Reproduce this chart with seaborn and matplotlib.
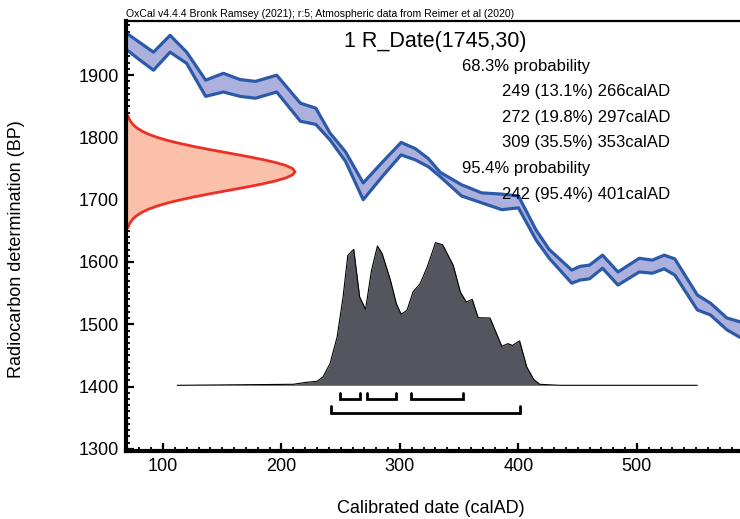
import numpy as np
import pandas as pd
import matplotlib
matplotlib.use("Agg")
import matplotlib.pyplot as plt
import seaborn as sns

# calibration curve band (upper / lower edge, BP)
cal_years = [68, 80, 92, 106, 120, 136, 151, 165, 178, 196, 216, 229, 241, 254, 269,
             285, 301, 313, 324, 334, 352, 369, 386, 400, 415, 426, 445, 452, 460, 471,
             484, 502, 513, 523, 532, 551, 562, 576, 587]
cal_upper = [1969, 1953, 1937, 1964, 1937, 1892, 1903, 1893, 1890, 1900, 1855, 1847, 1807,
             1777, 1727, 1760, 1792, 1782, 1766, 1744, 1724, 1711, 1709, 1706, 1651, 1620,
             1587, 1593, 1595, 1611, 1584, 1606, 1603, 1611, 1605, 1547, 1534, 1510, 1504]
cal_lower = [1943, 1925, 1908, 1937, 1919, 1866, 1873, 1866, 1863, 1873, 1826, 1821, 1796,
             1762, 1700, 1737, 1772, 1764, 1753, 1737, 1706, 1695, 1684, 1687, 1635, 1606,
             1566, 1571, 1573, 1590, 1563, 1584, 1582, 1589, 1579, 1523, 1515, 1491, 1479]

# radiocarbon date R_Date(1745,30): relative density along the BP axis
rdate_bp = list(range(1655, 1840, 5))
rdate_dens = [0.011, 0.018, 0.029, 0.044, 0.066, 0.096, 0.135, 0.186, 0.249, 0.325,
              0.411, 0.506, 0.607, 0.707, 0.801, 0.882, 0.946, 0.986, 1.0, 0.986,
              0.946, 0.882, 0.801, 0.707, 0.607, 0.506, 0.411, 0.325, 0.249, 0.186,
              0.135, 0.096, 0.066, 0.044, 0.029, 0.018, 0.011]

# calibrated probability (relative)
post_years = [112, 210, 221, 230, 235, 241, 247, 252, 256, 261, 266, 271, 276, 281, 285,
              292, 297, 301, 306, 311, 317, 323, 330, 336, 345, 351, 356, 361, 366, 376,
              386, 391, 395, 401, 407, 413, 418, 435, 551]
post_prob = [0, 0.007, 0.021, 0.028, 0.058, 0.152, 0.339, 0.619, 0.911, 0.953, 0.619,
             0.533, 0.806, 0.977, 0.923, 0.736, 0.572, 0.498, 0.526, 0.654, 0.713, 0.829,
             1.0, 0.986, 0.841, 0.654, 0.584, 0.603, 0.474, 0.472, 0.273, 0.292, 0.280,
             0.311, 0.129, 0.040, 0.007, 0, 0]

# highest density ranges
hpd68 = [(249, 266), (272, 297), (309, 353)]
hpd95 = [(242, 401)]

range_lines = ["68.3% probability", "249 (13.1%) 266calAD", "272 (19.8%) 297calAD",
               "309 (35.5%) 353calAD", "95.4% probability", "242 (95.4%) 401calAD"]

sns.set_theme(style="ticks")
plt.rcParams['font.family'] = ['Liberation Sans', 'DejaVu Sans']

fig = plt.figure(figsize=(7.4, 5.19), dpi=100)
ax = fig.add_axes([126 / 740, 68 / 519, 614 / 740, 430 / 519])
xlim = (68.8, 587)
ylim = (1296.5, 1987)

# calibration curve
cal = pd.DataFrame({'year': cal_years, 'upper': cal_upper, 'lower': cal_lower})
ax.fill_between(cal['year'], cal['lower'], cal['upper'], color='#abb1dc', lw=0)
sns.lineplot(data=cal, x='year', y='upper', ax=ax, color='#2c5aa9', lw=2.3,
             sort=False, estimator=None)
sns.lineplot(data=cal, x='year', y='lower', ax=ax, color='#2c5aa9', lw=2.3,
             sort=False, estimator=None)

# radiocarbon date on the y axis
rd = pd.DataFrame({'bp': rdate_bp, 'dens': rdate_dens})
rd['x'] = xlim[0] + rd['dens'] * 142.6
ax.fill_betweenx(rd['bp'], xlim[0], rd['x'], color='#fbc0a9', lw=0)
sns.lineplot(data=rd, x='x', y='bp', ax=ax, color='#ec2f27', lw=2.0,
             sort=False, estimator=None, orient='y')

# calibrated distribution
base = 1402
post = pd.DataFrame({'year': post_years, 'p': post_prob})
post['top'] = base + post['p'] * 229
ax.fill_between(post['year'], base, post['top'], color='#55565d', lw=0)
sns.lineplot(data=post, x='year', y='top', ax=ax, color='black', lw=0.8,
             sort=False, estimator=None)

# range brackets
for lo, hi in hpd68:
    ax.plot([lo, lo, hi, hi], [1390, 1380, 1380, 1390], color='black', lw=2.0,
            solid_joinstyle='miter')
for lo, hi in hpd95:
    ax.plot([lo, lo, hi, hi], [1368, 1358, 1358, 1368], color='black', lw=2.0,
            solid_joinstyle='miter')

ax.set_xlim(*xlim)
ax.set_ylim(*ylim)
ax.set_xticks(range(100, 600, 100))
ax.set_xticks(range(70, 590, 10), minor=True)
ax.set_yticks(range(1300, 2000, 100))
ax.set_yticks(range(1300, 1990, 10), minor=True)
ax.tick_params(which='major', direction='in', length=6, width=1.6, labelsize=13, pad=5,
               color='black', labelcolor='black')
ax.tick_params(which='minor', direction='in', length=3, width=1.3, color='black')
for side in ['left', 'bottom']:
    ax.spines[side].set_linewidth(3)
    ax.spines[side].set_color('black')
ax.spines['top'].set_linewidth(1.6)
ax.spines['top'].set_color('black')
ax.spines['right'].set_visible(False)

ax.set_xlabel('Calibrated date (calAD)', fontsize=13, color='black')
ax.set_ylabel('Radiocarbon determination (BP)', fontsize=13, color='black')
ax.xaxis.set_label_coords(0.497, -0.115)
ax.yaxis.set_label_coords(-0.165, 0.47)

fig.text(126 / 740, 1 - 14 / 519, 'OxCal v4.4.4 Bronk Ramsey (2021); r:5; Atmospheric data from Reimer et al (2020)',
         fontsize=7.6, ha='left', va='center', color='black')
fig.text(435 / 740, 1 - 42 / 519, '1 R_Date(1745,30)', fontsize=15.5, ha='center', va='center',
         color='black')
for i, line in enumerate(range_lines):
    y = 1 - (66 + i * 25.6) / 519
    if 'probability' in line:
        fig.text(462 / 740, y, line, fontsize=12, ha='left', va='center', color='black')
    else:
        fig.text(670 / 740, y, line, fontsize=12, ha='right', va='center', color='black')

fig.savefig('out.png', dpi=100)
